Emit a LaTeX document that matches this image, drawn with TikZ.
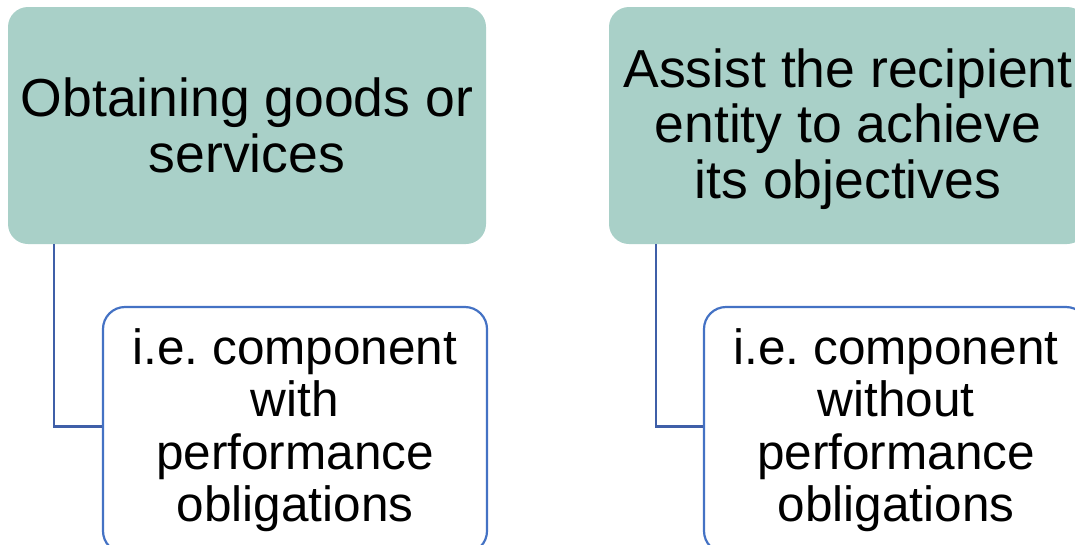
\documentclass[tikz,border=0pt]{standalone}
\usepackage{fontspec}
\setmainfont{Liberation Sans}
\usetikzlibrary{positioning}

\definecolor{goalfill}{RGB}{169,208,200}
\definecolor{subline}{RGB}{68,114,196}
\definecolor{linkline}{RGB}{63,95,168}

\tikzset{
  goalbox/.style={fill=goalfill, rounded corners=20pt, minimum width=478pt,
    minimum height=237pt, inner sep=0pt, align=center,
    font=\fontsize{53.5}{55.5}\selectfont},
  subbox/.style={draw=subline, fill=white, line width=2.2pt, rounded corners=22pt,
    minimum width=384pt, minimum height=246pt, inner sep=0pt, align=center,
    font=\fontsize{49.5}{52.5}\selectfont\frenchspacing},
  link/.style={draw=linkline, line width=2.4pt}
}

\begin{document}
\begin{tikzpicture}[x=1pt, y=-1pt]
  \useasboundingbox (0,0) rectangle (1075,544);

  % Left branch: goods or services
  \node[goalbox] (goods) at (247,125.5) {Obtaining goods or\\services};
  \node[subbox] (withpo) at (295,430) {i.e. component\\with\\performance\\obligations};
  \coordinate (goodsfoot) at ([xshift=46pt]goods.south west);
  \draw[link] (goodsfoot) |- ([yshift=3.5pt]withpo.west);

  % Right branch: assist the recipient
  \node[goalbox] (assist) at (848,125.5) {\raisebox{-3.5pt}[\height][\depth]{\parbox{478pt}{\centering
    Assist the recipient\\entity to achieve\\its objectives}}};
  \node[subbox] (withoutpo) at (896,430) {i.e. component\\without\\performance\\obligations};
  \coordinate (assistfoot) at ([xshift=47pt]assist.south west);
  \draw[link] (assistfoot) |- ([yshift=3.5pt]withoutpo.west);
\end{tikzpicture}
\end{document}
